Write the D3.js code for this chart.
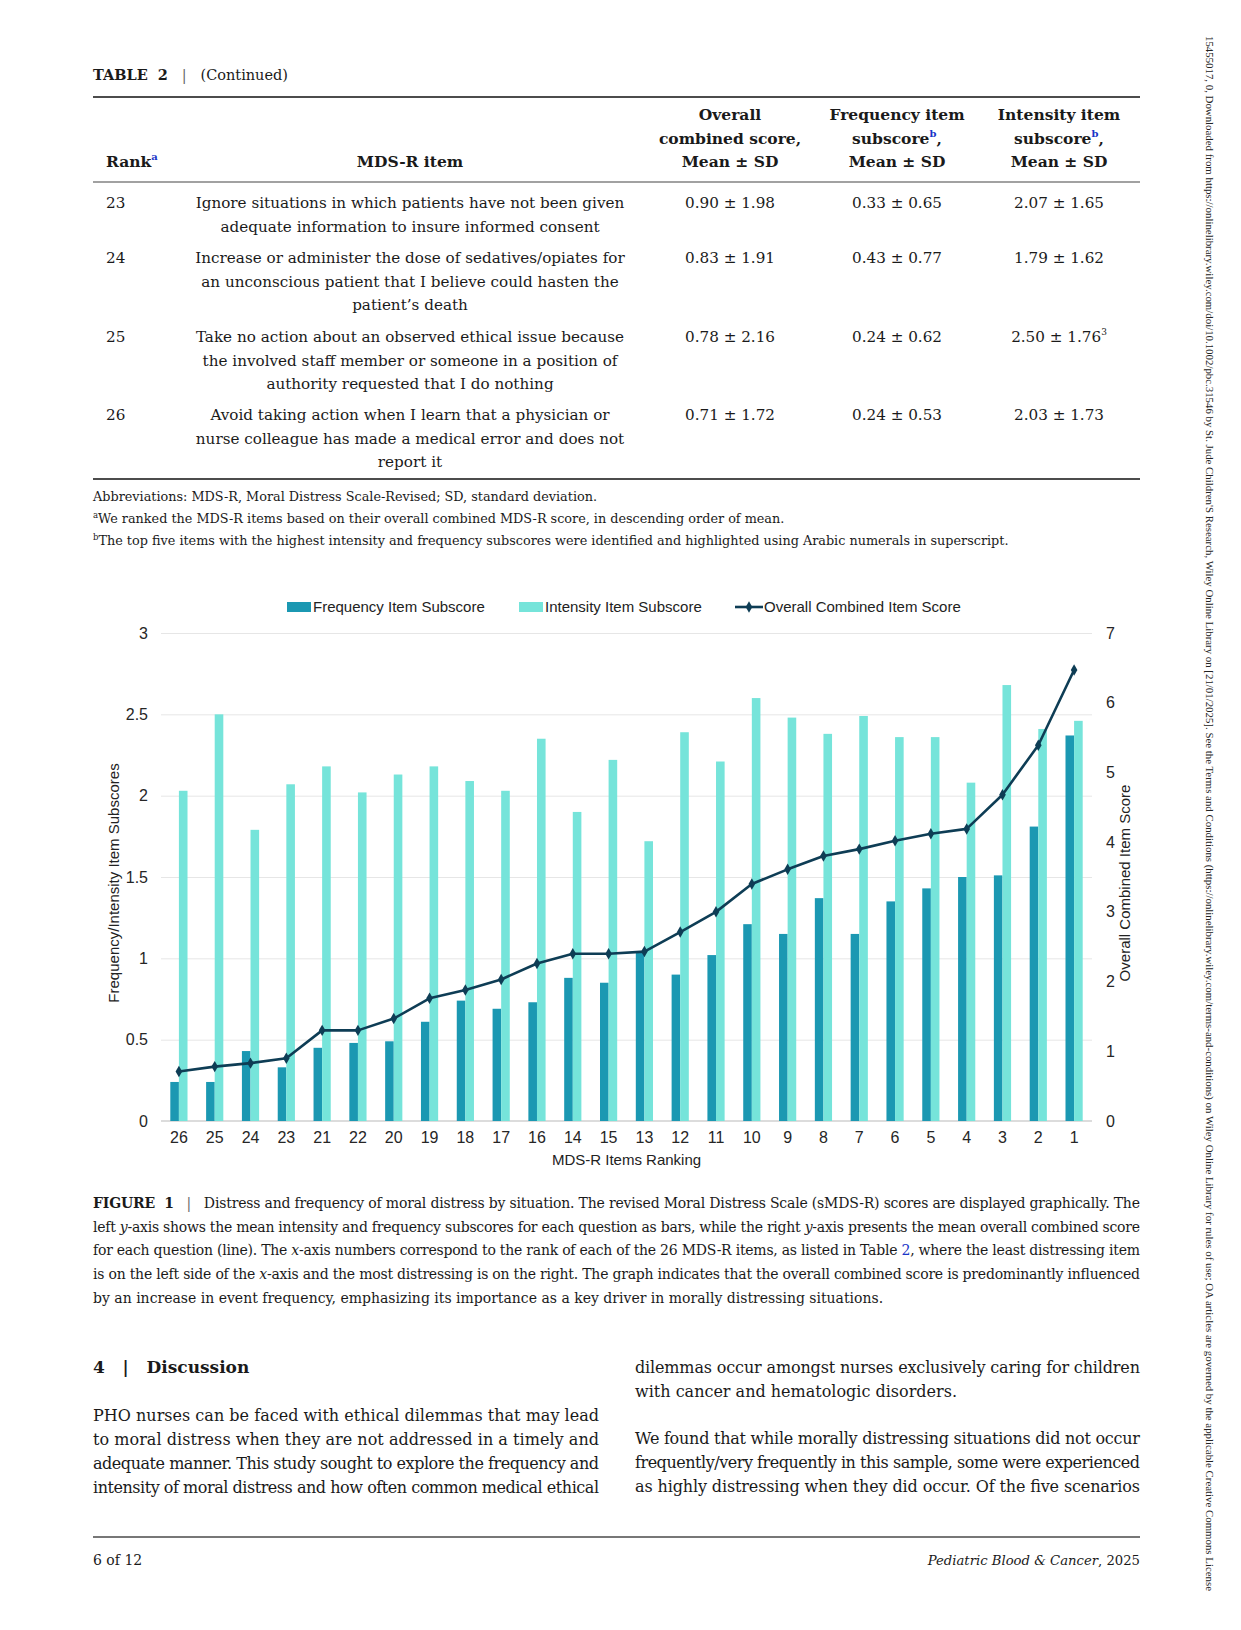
<!DOCTYPE html>
<html lang="en">
<head>
<meta charset="UTF-8"/>
<title>Distress and frequency of moral distress by situation</title>
<script src="https://d3js.org/d3.v7.min.js"></script>
<style>
body { margin: 0; background: #fff; }
svg { display: block; }
.serif { font-family: 'DejaVu Serif', 'Liberation Serif', serif; fill: #1a1a1a; }
.sans { font-family: 'Liberation Sans', Arial, sans-serif; fill: #222; }
.grid line { stroke: #e6e6e6; stroke-width: 1; }
.grid path { stroke-width: 0; }
.axis path, .axis line { stroke: none; }
.axis text { font-family: 'Liberation Sans', Arial, sans-serif; font-size: 16px; fill: #262626; }
</style>
</head>
<body>
<svg id="page" width="1241" height="1630"></svg>
<script>
// chart data, left to right as on the x-axis
const ranks = ['26','25','24','23','21','22','20','19','18','17','16','14','15','13','12','11','10','9','8','7','6','5','4','3','2','1'];
const frequency = [0.24,0.24,0.43,0.33,0.45,0.48,0.49,0.61,0.74,0.69,0.73,0.88,0.85,1.04,0.90,1.02,1.21,1.15,1.37,1.15,1.35,1.43,1.50,1.51,1.81,2.37];
const intensity = [2.03,2.50,1.79,2.07,2.18,2.02,2.13,2.18,2.09,2.03,2.35,1.90,2.22,1.72,2.39,2.21,2.60,2.48,2.38,2.49,2.36,2.36,2.08,2.68,2.41,2.46];
const overall = [0.71,0.78,0.83,0.90,1.30,1.30,1.47,1.76,1.88,2.03,2.26,2.40,2.40,2.43,2.71,3.00,3.40,3.61,3.80,3.90,4.02,4.12,4.19,4.68,5.39,6.47];
const leftTicks = [0, 0.5, 1, 1.5, 2, 2.5, 3];
const rightTicks = [0, 1, 2, 3, 4, 5, 6, 7];

// table rows (continued part of table 2)
const tableRanks = ['23', '24', '25', '26'];
const tableItems = [
  ['Ignore situations in which patients have not been given', 'adequate information to insure informed consent'],
  ['Increase or administer the dose of sedatives/opiates for', 'an unconscious patient that I believe could hasten the', 'patient\u2019s death'],
  ['Take no action about an observed ethical issue because', 'the involved staff member or someone in a position of', 'authority requested that I do nothing'],
  ['Avoid taking action when I learn that a physician or', 'nurse colleague has made a medical error and does not', 'report it']
];
const tableOverall = ['0.90 \u00b1 1.98', '0.83 \u00b1 1.91', '0.78 \u00b1 2.16', '0.71 \u00b1 1.72'];
const tableFrequency = ['0.33 \u00b1 0.65', '0.43 \u00b1 0.77', '0.24 \u00b1 0.62', '0.24 \u00b1 0.53'];
const tableIntensity = ['2.07 \u00b1 1.65', '1.79 \u00b1 1.62', '2.50 \u00b1 1.76', '2.03 \u00b1 1.73'];

const svg = d3.select('#page');
const blue = '#1a35c8';

// ---------- page header + table ----------
const head = svg.append('text').attr('class', 'serif').attr('x', 93).attr('y', 80).attr('font-size', 14.5);
head.append('tspan').attr('font-weight', 700).text('TABLE\u00a0\u00a02');
head.append('tspan').attr('fill', '#666').text('\u00a0\u00a0\u00a0|\u00a0\u00a0\u00a0');
head.append('tspan').text('(Continued)');

svg.append('line').attr('x1', 93).attr('x2', 1140).attr('y1', 97).attr('y2', 97).attr('stroke', '#111').attr('stroke-width', 1.6);
svg.append('line').attr('x1', 93).attr('x2', 1140).attr('y1', 182).attr('y2', 182).attr('stroke', '#444').attr('stroke-width', 1.2);
svg.append('line').attr('x1', 93).attr('x2', 1140).attr('y1', 479).attr('y2', 479).attr('stroke', '#111').attr('stroke-width', 1.6);

const colX = { rank: 106, item: 410, overall: 730, freq: 897, inten: 1059 };
const headerLines = [
  { x: colX.overall, lines: ['Overall', 'combined score,', 'Mean \u00b1 SD'], sup: null },
  { x: colX.freq, lines: ['Frequency item', 'subscore', 'Mean \u00b1 SD'], sup: 'b' },
  { x: colX.inten, lines: ['Intensity item', 'subscore', 'Mean \u00b1 SD'], sup: 'b' }
];
headerLines.forEach(h => {
  h.lines.forEach((ln, i) => {
    const t = svg.append('text').attr('class', 'serif').attr('x', h.x).attr('y', 120 + i * 23.5)
      .attr('text-anchor', 'middle').attr('font-size', 15.5).attr('font-weight', 700);
    t.append('tspan').text(ln);
    if (i === 1 && h.sup) {
      t.append('tspan').attr('font-size', 10).attr('dy', -7).attr('fill', blue).text(h.sup);
      t.append('tspan').attr('dy', 7).text(',');
    }
  });
});
const rk = svg.append('text').attr('class', 'serif').attr('x', colX.rank).attr('y', 167).attr('font-size', 15.5).attr('font-weight', 700);
rk.append('tspan').text('Rank');
rk.append('tspan').attr('font-size', 10).attr('dy', -7).attr('fill', blue).text('a');
svg.append('text').attr('class', 'serif').attr('x', colX.item).attr('y', 167).attr('text-anchor', 'middle')
  .attr('font-size', 15.5).attr('font-weight', 700).text('MDS-R item');

const rowTop = [208, 263, 342, 420];
tableRanks.forEach((r, i) => {
  const y = rowTop[i];
  svg.append('text').attr('class', 'serif').attr('x', colX.rank).attr('y', y).attr('font-size', 15.2).text(r);
  tableItems[i].forEach((ln, j) => {
    svg.append('text').attr('class', 'serif').attr('x', colX.item).attr('y', y + j * 23.6)
      .attr('text-anchor', 'middle').attr('font-size', 15.2).text(ln);
  });
  svg.append('text').attr('class', 'serif').attr('x', colX.overall).attr('y', y).attr('text-anchor', 'middle').attr('font-size', 15.2).text(tableOverall[i]);
  svg.append('text').attr('class', 'serif').attr('x', colX.freq).attr('y', y).attr('text-anchor', 'middle').attr('font-size', 15.2).text(tableFrequency[i]);
  const it = svg.append('text').attr('class', 'serif').attr('x', colX.inten).attr('y', y).attr('text-anchor', 'middle').attr('font-size', 15.2);
  it.append('tspan').text(tableIntensity[i]);
  if (r === '25') it.append('tspan').attr('font-size', 9).attr('dy', -7).text('3');
});

// footnotes
svg.append('text').attr('class', 'serif').attr('x', 93).attr('y', 501).attr('font-size', 12.8)
  .text('Abbreviations: MDS-R, Moral Distress Scale-Revised; SD, standard deviation.');
const fn2 = svg.append('text').attr('class', 'serif').attr('x', 93).attr('y', 523).attr('font-size', 12.8);
fn2.append('tspan').attr('font-size', 8.5).attr('dy', -5).text('a');
fn2.append('tspan').attr('dy', 5).text('We ranked the MDS-R items based on their overall combined MDS-R score, in descending order of mean.');
const fn3 = svg.append('text').attr('class', 'serif').attr('x', 93).attr('y', 545).attr('font-size', 12.8);
fn3.append('tspan').attr('font-size', 8.5).attr('dy', -5).text('b');
fn3.append('tspan').attr('dy', 5).text('The top five items with the highest intensity and frequency subscores were identified and highlighted using Arabic numerals in superscript.');

// ---------- chart ----------
const colorFreq = '#1b98b2';
const colorInt = '#76e4da';
const colorLine = '#0e3d55';
const plot = { left: 161, right: 1092, top: 633, bottom: 1121 };

const x = d3.scaleBand().domain(ranks).range([plot.left, plot.right]);
const sub = d3.scaleBand().domain(['freq', 'int'])
  .range([x.bandwidth() / 2 - 8.6, x.bandwidth() / 2 + 8.6]);
const yL = d3.scaleLinear().domain([0, 3]).range([plot.bottom, plot.top]);
const yR = d3.scaleLinear().domain([0, 7]).range([plot.bottom, plot.top]);

const chart = svg.append('g');

chart.append('g').attr('class', 'grid')
  .attr('transform', `translate(${plot.left},0)`)
  .call(d3.axisLeft(yL).tickValues(leftTicks.slice(1)).tickSize(-(plot.right - plot.left)).tickFormat(''));

chart.append('line').attr('x1', plot.left).attr('x2', plot.right)
  .attr('y1', plot.bottom).attr('y2', plot.bottom).attr('stroke', '#d0d0d0').attr('stroke-width', 1.3);

const groups = chart.selectAll('g.item').data(ranks).enter().append('g')
  .attr('class', 'item').attr('transform', d => `translate(${x(d)},0)`);
groups.append('rect').attr('x', sub('freq')).attr('width', sub.bandwidth())
  .attr('y', (d, i) => yL(frequency[i])).attr('height', (d, i) => yL(0) - yL(frequency[i]))
  .attr('fill', colorFreq);
groups.append('rect').attr('x', sub('int')).attr('width', sub.bandwidth())
  .attr('y', (d, i) => yL(intensity[i])).attr('height', (d, i) => yL(0) - yL(intensity[i]))
  .attr('fill', colorInt);

const line = d3.line().x((d, i) => x(ranks[i]) + x.bandwidth() / 2).y(d => yR(d));
chart.append('path').datum(overall).attr('d', line)
  .attr('fill', 'none').attr('stroke', colorLine).attr('stroke-width', 2.6).attr('stroke-linejoin', 'round');
const diamond = d3.symbol().type(d3.symbolDiamond).size(38);
chart.selectAll('path.pt').data(overall).enter().append('path').attr('class', 'pt')
  .attr('d', diamond)
  .attr('transform', (d, i) => `translate(${x(ranks[i]) + x.bandwidth() / 2},${yR(d)})`)
  .attr('fill', colorLine);

// axes
chart.append('g').attr('class', 'axis').attr('transform', `translate(${plot.left},0)`)
  .call(d3.axisLeft(yL).tickValues(leftTicks).tickFormat(d => String(d)).tickSize(0).tickPadding(13));
chart.append('g').attr('class', 'axis').attr('transform', `translate(${plot.right},0)`)
  .call(d3.axisRight(yR).tickValues(rightTicks).tickFormat(d => String(d)).tickSize(0).tickPadding(14));
chart.append('g').attr('class', 'axis').attr('transform', `translate(0,${plot.bottom})`)
  .call(d3.axisBottom(x).tickSize(0).tickPadding(11));

chart.append('text').attr('class', 'sans').attr('text-anchor', 'middle').attr('font-size', 15)
  .attr('x', (plot.left + plot.right) / 2).attr('y', 1165).text('MDS-R Items Ranking');
chart.append('text').attr('class', 'sans').attr('text-anchor', 'middle').attr('font-size', 15)
  .attr('transform', `translate(119,${(plot.top + plot.bottom) / 2 + 6}) rotate(-90)`)
  .text('Frequency/Intensity Item Subscores');
chart.append('text').attr('class', 'sans').attr('text-anchor', 'middle').attr('font-size', 15)
  .attr('transform', `translate(1130,${(plot.top + plot.bottom) / 2 + 6}) rotate(-90)`)
  .text('Overall Combined Item Score');

// legend
const legend = chart.append('g').attr('transform', 'translate(0,607)');
legend.append('rect').attr('x', 287).attr('y', -5).attr('width', 24).attr('height', 10).attr('fill', colorFreq);
legend.append('text').attr('class', 'sans').attr('x', 313).attr('y', 5).attr('font-size', 15).text('Frequency Item Subscore');
legend.append('rect').attr('x', 519).attr('y', -5).attr('width', 24).attr('height', 10).attr('fill', colorInt);
legend.append('text').attr('class', 'sans').attr('x', 545).attr('y', 5).attr('font-size', 15).text('Intensity Item Subscore');
legend.append('line').attr('x1', 735).attr('x2', 763).attr('y1', 0).attr('y2', 0).attr('stroke', colorLine).attr('stroke-width', 2.6);
legend.append('path').attr('d', diamond).attr('transform', 'translate(749,0)').attr('fill', colorLine);
legend.append('text').attr('class', 'sans').attr('x', 764).attr('y', 5).attr('font-size', 15).text('Overall Combined Item Score');

// ---------- caption ----------
const capX = 93, capW = 1047;
const caption = [
  [['b', 'FIGURE\u00a0\u00a01'], ['g', '\u00a0\u00a0\u00a0|\u00a0\u00a0\u00a0'], ['', 'Distress and frequency of moral distress by situation. The revised Moral Distress Scale (sMDS-R) scores are displayed graphically. The']],
  [['', 'left '], ['i', 'y'], ['', '-axis shows the mean intensity and frequency subscores for each question as bars, while the right '], ['i', 'y'], ['', '-axis presents the mean overall combined score']],
  [['', 'for each question (line). The '], ['i', 'x'], ['', '-axis numbers correspond to the rank of each of the 26 MDS-R items, as listed in Table '], ['l', '2'], ['', ', where the least distressing item']],
  [['', 'is on the left side of the '], ['i', 'x'], ['', '-axis and the most distressing is on the right. The graph indicates that the overall combined score is predominantly influenced']],
  [['', 'by an increase in event frequency, emphasizing its importance as a key driver in morally distressing situations.']]
];
caption.forEach((parts, i) => {
  const t = svg.append('text').attr('class', 'serif').attr('x', capX).attr('y', 1208 + i * 23.7).attr('font-size', 14);
  if (i < caption.length - 1) t.attr('textLength', capW).attr('lengthAdjust', 'spacing');
  parts.forEach(p => {
    const s = t.append('tspan').text(p[1]);
    if (p[0] === 'b') s.attr('font-weight', 700);
    if (p[0] === 'i') s.attr('font-style', 'italic');
    if (p[0] === 'g') s.attr('fill', '#666');
    if (p[0] === 'l') s.attr('fill', blue);
  });
});

// ---------- discussion ----------
svg.append('text').attr('class', 'serif').attr('x', 93).attr('y', 1373).attr('font-size', 17).attr('font-weight', 700)
  .text('4\u00a0\u00a0\u00a0|\u00a0\u00a0\u00a0Discussion');

const leftCol = [
  'PHO nurses can be faced with ethical dilemmas that may lead',
  'to moral distress when they are not addressed in a timely and',
  'adequate manner. This study sought to explore the frequency and',
  'intensity of moral distress and how often common medical ethical'
];
leftCol.forEach((ln, i) => {
  svg.append('text').attr('class', 'serif').attr('x', 93).attr('y', 1421 + i * 24)
    .attr('font-size', 16).attr('textLength', 506).attr('lengthAdjust', 'spacing').text(ln);
});
const rightCol = [
  { y: 1373, t: 'dilemmas occur amongst nurses exclusively caring for children', j: true },
  { y: 1397, t: 'with cancer and hematologic disorders.', j: false },
  { y: 1444, t: 'We found that while morally distressing situations did not occur', j: true },
  { y: 1468, t: 'frequently/very frequently in this sample, some were experienced', j: true },
  { y: 1492, t: 'as highly distressing when they did occur. Of the five scenarios', j: true }
];
rightCol.forEach(r => {
  const t = svg.append('text').attr('class', 'serif').attr('x', 635).attr('y', r.y).attr('font-size', 16).text(r.t);
  if (r.j) t.attr('textLength', 505).attr('lengthAdjust', 'spacing');
});

// ---------- footer ----------
svg.append('line').attr('x1', 93).attr('x2', 1140).attr('y1', 1537).attr('y2', 1537).attr('stroke', '#777').attr('stroke-width', 2);
svg.append('text').attr('class', 'serif').attr('x', 93).attr('y', 1565).attr('font-size', 14).text('6 of 12');
const jr = svg.append('text').attr('class', 'serif').attr('x', 1140).attr('y', 1565).attr('font-size', 13.2).attr('text-anchor', 'end');
jr.append('tspan').attr('font-style', 'italic').text('Pediatric Blood & Cancer');
jr.append('tspan').text(', 2025');

// side margin note (narrow serif so its natural length fits the page height)
svg.append('text').attr('font-family', "'Liberation Serif', serif").attr('font-size', 10.8).attr('fill', '#222')
  .attr('transform', 'translate(1206,36) rotate(90)')
  .attr('textLength', 1555).attr('lengthAdjust', 'spacingAndGlyphs')
  .text('15455017, 0, Downloaded from https://onlinelibrary.wiley.com/doi/10.1002/pbc.31546 by St. Jude Children\'S Research, Wiley Online Library on [21/01/2025]. See the Terms and Conditions (https://onlinelibrary.wiley.com/terms-and-conditions) on Wiley Online Library for rules of use; OA articles are governed by the applicable Creative Commons License');
</script>
</body>
</html>
